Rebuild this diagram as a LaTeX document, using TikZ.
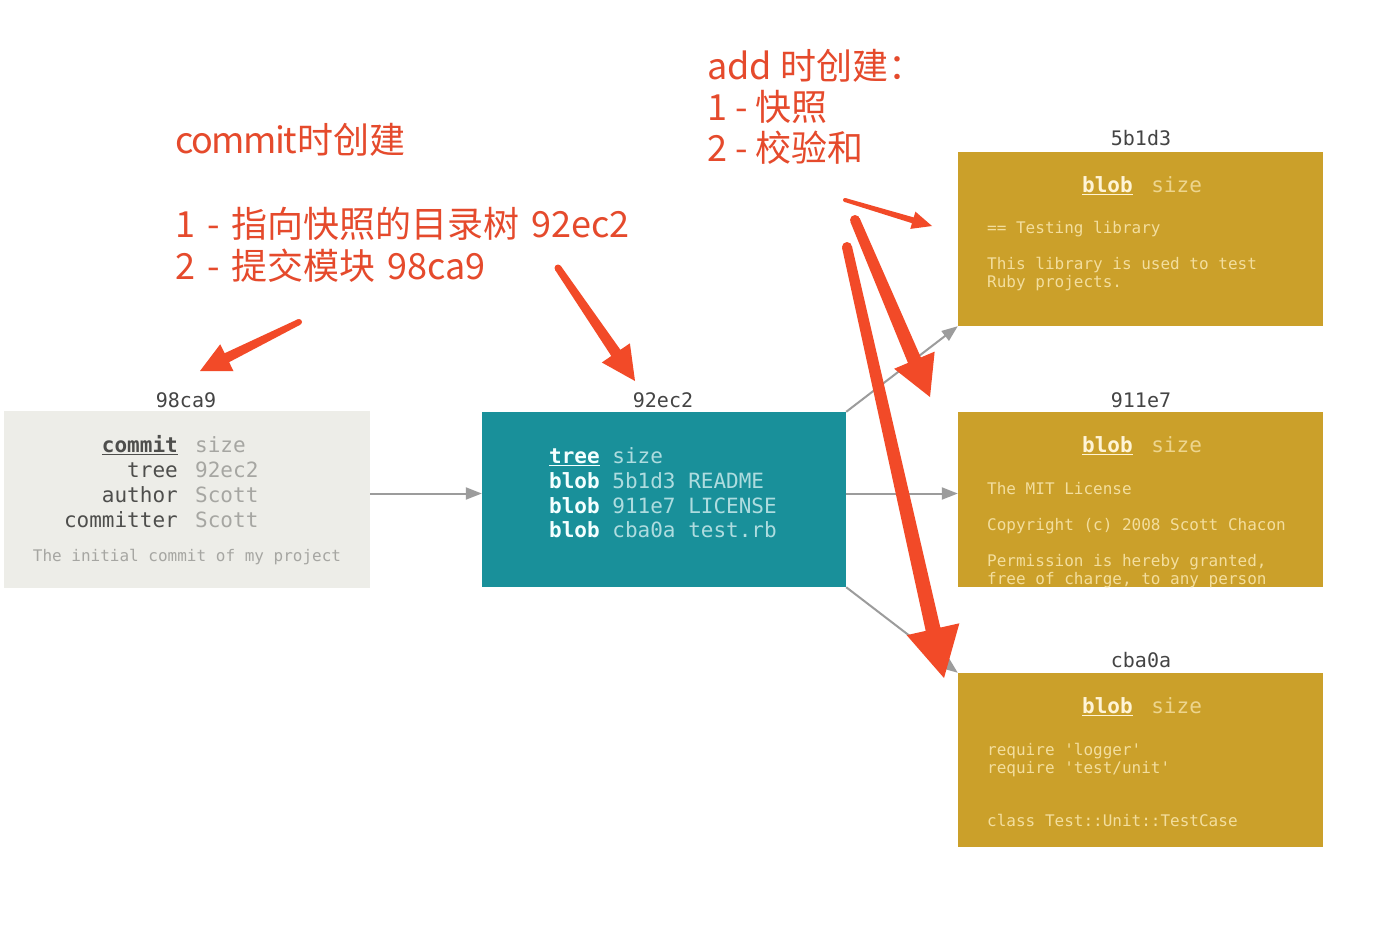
\documentclass[tikz,border=0pt]{standalone}
\usepackage{fontspec}
\setmonofont{DejaVu Sans Mono}
\newfontfamily\cjk{Noto Sans CJK SC}
\usetikzlibrary{calc,arrows.meta}
\definecolor{redc}{HTML}{F24A28}
\definecolor{redt}{HTML}{E54A2C}
\definecolor{commitfill}{HTML}{EDEDE8}
\definecolor{treefill}{HTML}{19909A}
\definecolor{blobfill}{HTML}{CBA02A}
\definecolor{labelgray}{HTML}{444444}
\definecolor{cdark}{HTML}{4E4E4C}
\definecolor{clight}{HTML}{A6A6A2}
\definecolor{twhite}{HTML}{F4FFFF}
\definecolor{tlight}{HTML}{AEDCDF}
\definecolor{bwhite}{HTML}{FFF4D6}
\definecolor{blight}{HTML}{EDD58E}
\definecolor{btext}{HTML}{F3DE9E}
\definecolor{connector}{HTML}{9C9C9C}
\newcommand\ws{\hspace{12pt}}
\newcommand\annarrow[6]{%
  \coordinate (ah) at ($(#2)!#5!(#1)$);
  \fill[redc] ($(#1)!#3!90:(#2)$) -- ($(ah)!#4!90:(#2)$) -- ($(ah)!#6!90:(#2)$)
     -- (#2) -- ($(ah)!#6!-90:(#2)$) -- ($(ah)!#4!-90:(#2)$) -- ($(#1)!#3!-90:(#2)$) -- cycle;
  \fill[redc] (#1) circle[radius=#3];
}
\tikzset{
  cbox/.style={fill=commitfill, minimum width=366pt, minimum height=177pt, inner sep=0pt},
  tbox/.style={fill=treefill, minimum width=364pt, minimum height=175pt, inner sep=0pt},
  bbox/.style={fill=blobfill, minimum width=365pt, minimum height=174pt, inner sep=0pt},
  lbl/.style={font=\ttfamily\fontsize{20}{24}\selectfont, text=labelgray, inner sep=0pt, anchor=base},
  big/.style={font=\ttfamily\fontsize{21}{25}\selectfont, inner sep=0pt},
  small/.style={font=\ttfamily\fontsize{16}{18}\selectfont, inner sep=0pt, anchor=base west, text=btext},
  ann/.style={font=\cjk\fontsize{36}{42}\selectfont, text=redt, inner sep=0pt, anchor=base west},
  gc/.style={draw=connector, line width=2pt, -{Triangle[length=16pt,width=12pt]}},
}
\begin{document}
\begin{tikzpicture}[x=1pt,y=-1pt]
\useasboundingbox[fill=white] (0,0) rectangle (1394,946);

% boxes
\node[cbox] (commit) at (187,499.5) {};
\node[tbox] (tree) at (664,499.5) {};
\node[bbox] (b1) at (1140.5,239) {};
\node[bbox, minimum height=175pt] (b2) at (1140.5,499.5) {};
\node[bbox] (b3) at (1140.5,760) {};

% labels
\node[lbl] (l1) at (186,407) {98ca9};
\node[lbl] (l2) at (663,407) {92ec2};
\node[lbl] (l3) at (1141,145) {5b1d3};
\node[lbl] (l4) at (1141,407) {911e7};
\node[lbl] (l5) at (1141,667) {cba0a};

% commit content
\node[big, anchor=base east, text=cdark] (c1) at (178,452) {\underline{\textbf{commit}}};
\node[big, anchor=base east, text=cdark] (c2) at (178,477) {tree};
\node[big, anchor=base east, text=cdark] (c3) at (178,502) {author};
\node[big, anchor=base east, text=cdark] (c4) at (178,527) {committer};
\node[big, anchor=base west, text=clight] (v1) at (195,452) {size};
\node[big, anchor=base west, text=clight] (v2) at (195,477) {92ec2};
\node[big, anchor=base west, text=clight] (v3) at (195,502) {Scott};
\node[big, anchor=base west, text=clight] (v4) at (195,527) {Scott};
\node[font=\ttfamily\fontsize{16}{18}\selectfont, inner sep=0pt, anchor=base, text=clight] (cd) at (187,561) {The initial commit of my project};

% tree content
\node[big, anchor=base west, text=tlight] (r1) at (549,463) {\textcolor{twhite}{\underline{\textbf{tree}}} size};
\node[big, anchor=base west, text=tlight] (r2) at (549,488) {\textcolor{twhite}{\textbf{blob}} 5b1d3 README};
\node[big, anchor=base west, text=tlight] (r3) at (549,513) {\textcolor{twhite}{\textbf{blob}} 911e7 LICENSE};
\node[big, anchor=base west, text=tlight] (r4) at (549,537) {\textcolor{twhite}{\textbf{blob}} cba0a test.rb};

% blob contents
\node[big, anchor=base, text=blight] (h1) at (1142,192) {\textcolor{bwhite}{\underline{\textbf{blob}}}\hspace{6pt} size};
\node[small] (s11) at (987,233) {== Testing library};
\node[small] (s12) at (987,269) {This library is used to test};
\node[small] (s13) at (987,287) {Ruby projects.};

\node[big, anchor=base, text=blight] (h2) at (1142,452) {\textcolor{bwhite}{\underline{\textbf{blob}}}\hspace{6pt} size};
\node[small] (s21) at (987,494) {The MIT License};
\node[small] (s22) at (987,530) {Copyright (c) 2008 Scott Chacon};
\node[small] (s23) at (987,566) {Permission is hereby granted,};
\begin{scope}
\clip (b2.south west) rectangle (b2.north east);
\node[small] (s24) at (987,584) {free of charge, to any person};
\end{scope}

\node[big, anchor=base, text=blight] (h3) at (1142,713) {\textcolor{bwhite}{\underline{\textbf{blob}}}\hspace{6pt} size};
\node[small] (s31) at (987,755) {require 'logger'};
\node[small] (s32) at (987,773) {require 'test/unit'};
\node[small] (s33) at (987,826) {class Test::Unit::TestCase};

% connectors
\draw[gc] ([yshift=6pt]commit.east) -- ([yshift=6pt]tree.west);
\draw[gc] ([yshift=6pt]tree.east) -- ([yshift=6pt]b2.west);
\draw[gc] (tree.north east) -- (b1.south west);
\draw[gc] (tree.south east) -- (b3.north west);

% annotations
\node[ann] (a1) at (175,153) {{\addfontfeatures{LetterSpace=-4}commit}时创建};
\node[ann] (a2) at (175,237) {1\ws-\ws 指向快照的目录树\ws 92ec2};
\node[ann] (a3) at (175,279) {2\ws-\ws 提交模块\ws 98ca9};
\node[ann] (a4) at (707,79) {add 时创建：};
\node[ann] (a5) at (707,120) {1 - 快照};
\node[ann] (a6) at (707,161) {2 - 校验和};

% red arrows
\coordinate (ra1) at (299,322); \coordinate (rb1) at (200,371);
\coordinate (ra2) at (558,268); \coordinate (rb2) at (635,381);
\coordinate (ra3) at (845,200); \coordinate (rb3) at (932,226);
\coordinate (ra4) at (855,220); \coordinate (rb4) at (930,397);
\coordinate (ra5) at (847,247); \coordinate (rb5) at (944,678);
\annarrow{ra1}{rb1}{3pt}{5pt}{30pt}{15pt}
\annarrow{ra2}{rb2}{3.5pt}{5.5pt}{34pt}{17pt}
\annarrow{ra3}{rb3}{2pt}{3pt}{20pt}{9pt}
\annarrow{ra4}{rb4}{5pt}{7pt}{40pt}{22pt}
\annarrow{ra5}{rb5}{5pt}{7.5pt}{50pt}{27pt}
\end{tikzpicture}
\end{document}
